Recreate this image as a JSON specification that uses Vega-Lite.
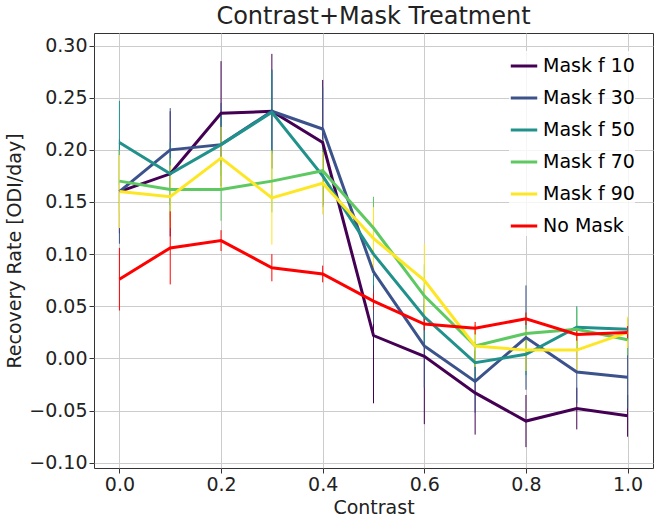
{
"$schema":"https://vega.github.io/schema/vega-lite/v6.json",
"width":559,"height":435,
"padding":{"left":5,"top":5,"right":5,"bottom":5},
"title":{"text":"Contrast+Mask Treatment","fontSize":24,"font":"DejaVu Sans","fontWeight":"normal","color":"#222"},
"config":{"font":"DejaVu Sans","view":{"stroke":"#333"},"axis":{"labelFontSize":19,"titleFontSize":19,"titleFontWeight":"normal","gridColor":"#ccc","domain":false,"tickColor":"#333","labelColor":"#222","titleColor":"#222"}},
"data":{"values":[
{"s":"Mask f 10","x":0.0,"y":0.16,"e":0.04},{"s":"Mask f 10","x":0.1,"y":0.177,"e":0.06},{"s":"Mask f 10","x":0.2,"y":0.235,"e":0.05},{"s":"Mask f 10","x":0.3,"y":0.237,"e":0.055},{"s":"Mask f 10","x":0.4,"y":0.207,"e":0.06},{"s":"Mask f 10","x":0.5,"y":0.022,"e":0.065},{"s":"Mask f 10","x":0.6,"y":0.002,"e":0.065},{"s":"Mask f 10","x":0.7,"y":-0.033,"e":0.04},{"s":"Mask f 10","x":0.8,"y":-0.06,"e":0.025},{"s":"Mask f 10","x":0.9,"y":-0.048,"e":0.02},{"s":"Mask f 10","x":1.0,"y":-0.055,"e":0.02},
{"s":"Mask f 30","x":0.0,"y":0.16,"e":0.05},{"s":"Mask f 30","x":0.1,"y":0.2,"e":0.04},{"s":"Mask f 30","x":0.2,"y":0.205,"e":0.04},{"s":"Mask f 30","x":0.3,"y":0.237,"e":0.04},{"s":"Mask f 30","x":0.4,"y":0.22,"e":0.04},{"s":"Mask f 30","x":0.5,"y":0.083,"e":0.05},{"s":"Mask f 30","x":0.6,"y":0.012,"e":0.04},{"s":"Mask f 30","x":0.7,"y":-0.022,"e":0.03},{"s":"Mask f 30","x":0.8,"y":0.02,"e":0.05},{"s":"Mask f 30","x":0.9,"y":-0.013,"e":0.03},{"s":"Mask f 30","x":1.0,"y":-0.018,"e":0.03},
{"s":"Mask f 50","x":0.0,"y":0.207,"e":0.04},{"s":"Mask f 50","x":0.1,"y":0.177,"e":0.03},{"s":"Mask f 50","x":0.2,"y":0.205,"e":0.03},{"s":"Mask f 50","x":0.3,"y":0.236,"e":0.04},{"s":"Mask f 50","x":0.4,"y":0.175,"e":0.03},{"s":"Mask f 50","x":0.5,"y":0.1,"e":0.03},{"s":"Mask f 50","x":0.6,"y":0.04,"e":0.03},{"s":"Mask f 50","x":0.7,"y":-0.004,"e":0.02},{"s":"Mask f 50","x":0.8,"y":0.004,"e":0.02},{"s":"Mask f 50","x":0.9,"y":0.03,"e":0.02},{"s":"Mask f 50","x":1.0,"y":0.028,"e":0.01},
{"s":"Mask f 70","x":0.0,"y":0.17,"e":0.03},{"s":"Mask f 70","x":0.1,"y":0.162,"e":0.03},{"s":"Mask f 70","x":0.2,"y":0.162,"e":0.03},{"s":"Mask f 70","x":0.3,"y":0.17,"e":0.03},{"s":"Mask f 70","x":0.4,"y":0.18,"e":0.03},{"s":"Mask f 70","x":0.5,"y":0.125,"e":0.03},{"s":"Mask f 70","x":0.6,"y":0.06,"e":0.03},{"s":"Mask f 70","x":0.7,"y":0.012,"e":0.02},{"s":"Mask f 70","x":0.8,"y":0.024,"e":0.02},{"s":"Mask f 70","x":0.9,"y":0.028,"e":0.02},{"s":"Mask f 70","x":1.0,"y":0.018,"e":0.015},
{"s":"Mask f 90","x":0.0,"y":0.16,"e":0.035},{"s":"Mask f 90","x":0.1,"y":0.155,"e":0.03},{"s":"Mask f 90","x":0.2,"y":0.192,"e":0.03},{"s":"Mask f 90","x":0.3,"y":0.154,"e":0.045},{"s":"Mask f 90","x":0.4,"y":0.168,"e":0.03},{"s":"Mask f 90","x":0.5,"y":0.115,"e":0.03},{"s":"Mask f 90","x":0.6,"y":0.075,"e":0.035},{"s":"Mask f 90","x":0.7,"y":0.012,"e":0.02},{"s":"Mask f 90","x":0.8,"y":0.008,"e":0.02},{"s":"Mask f 90","x":0.9,"y":0.008,"e":0.02},{"s":"Mask f 90","x":1.0,"y":0.025,"e":0.015},
{"s":"No Mask","x":0.0,"y":0.076,"e":0.03},{"s":"No Mask","x":0.1,"y":0.106,"e":0.035},{"s":"No Mask","x":0.2,"y":0.113,"e":0.01},{"s":"No Mask","x":0.3,"y":0.087,"e":0.013},{"s":"No Mask","x":0.4,"y":0.081,"e":0.008},{"s":"No Mask","x":0.5,"y":0.055,"e":0.008},{"s":"No Mask","x":0.6,"y":0.033,"e":0.006},{"s":"No Mask","x":0.7,"y":0.029,"e":0.006},{"s":"No Mask","x":0.8,"y":0.038,"e":0.006},{"s":"No Mask","x":0.9,"y":0.023,"e":0.006},{"s":"No Mask","x":1.0,"y":0.025,"e":0.006}
]},
"encoding":{
"x":{"field":"x","type":"quantitative","title":"Contrast","scale":{"domain":[-0.05,1.05],"nice":false},"axis":{"values":[0,0.2,0.4,0.6,0.8,1.0],"format":".1f","titlePadding":4}},
"color":{"field":"s","type":"nominal","scale":{"domain":["Mask f 10","Mask f 30","Mask f 50","Mask f 70","Mask f 90","No Mask"],"range":["#440154","#3b528b","#21918c","#5ec962","#fde725","#ff0000"]},
"legend":{"title":null,"orient":"top-right","labelFontSize":19,"symbolType":"stroke","symbolStrokeWidth":3,"symbolSize":700,"rowPadding":7,"fillColor":"rgba(255,255,255,0.8)"}}
},
"layer":[
{"mark":{"type":"errorbar","thickness":1},"encoding":{"y":{"field":"y","type":"quantitative","title":"Recovery Rate [ODI/day]"},"yError":{"field":"e"}}},
{"mark":{"type":"line","strokeWidth":3},"encoding":{"y":{"field":"y","type":"quantitative","title":"Recovery Rate [ODI/day]","scale":{"domain":[-0.105,0.312],"nice":false},"axis":{"values":[-0.1,-0.05,0,0.05,0.1,0.15,0.2,0.25,0.3],"format":".2f"}}}}
]
}
